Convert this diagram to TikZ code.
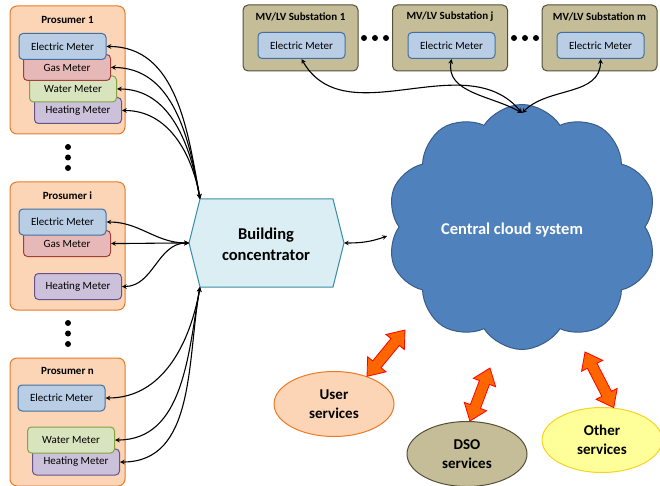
\documentclass[tikz,border=0pt]{standalone}
\usepackage{fontspec}
\setmainfont{Carlito}
\usepackage{tikz}
\usetikzlibrary{arrows}
\usetikzlibrary{calc}
\usetikzlibrary{shapes.geometric}
\usetikzlibrary{shapes.symbols}
\usetikzlibrary{shapes.arrows}

\definecolor{prosumerfill}{HTML}{FBD5B5}
\definecolor{prosumerline}{HTML}{EB7A24}
\definecolor{elecfill}{HTML}{B9CDE5}
\definecolor{elecline}{HTML}{41709F}
\definecolor{gasfill}{HTML}{E6B9B8}
\definecolor{gasline}{HTML}{A23E3B}
\definecolor{waterfill}{HTML}{D7E4BD}
\definecolor{waterline}{HTML}{82A447}
\definecolor{heatfill}{HTML}{CCC1DA}
\definecolor{heatline}{HTML}{67528A}
\definecolor{bcfill}{HTML}{DAEEF3}
\definecolor{bcline}{HTML}{3A8FA6}
\definecolor{stationfill}{HTML}{C4BD97}
\definecolor{stationline}{HTML}{544F38}
\definecolor{cloudfill}{HTML}{4F81BD}
\definecolor{cloudline}{HTML}{385D8A}
\definecolor{otherfill}{HTML}{FFFF99}
\definecolor{otherline}{HTML}{F7D21E}
\definecolor{arrowfill}{HTML}{FF6600}

\newcommand{\fatlink}[2]{%
  \path let \p1=($(#2)-(#1)$), \n1={atan2(\y1,\x1)}, \n2={veclen(\x1,\y1)} in
    node[fat,rotate=\n1,minimum height=\n2] at ($(#1)!.5!(#2)$) {};}

\begin{document}
\begin{tikzpicture}[x=1pt,y=1pt]
  \tikzstyle{prosumer} = [draw=prosumerline,fill=prosumerfill,line width=1pt,rounded corners=7pt,minimum width=115pt,minimum height=128pt,inner sep=0pt]
  \tikzstyle{station} = [draw=stationline,fill=stationfill,line width=1pt,rounded corners=5pt,minimum width=115pt,minimum height=66pt,inner sep=0pt]
  \tikzstyle{title} = [font=\bfseries\fontsize{11}{13}\selectfont]
  \tikzstyle{meter} = [line width=1pt,rounded corners=4pt,minimum width=87pt,minimum height=26pt,inner sep=0pt,font=\fontsize{11}{13}\selectfont]
  \tikzstyle{elec} = [meter,draw=elecline,fill=elecfill]
  \tikzstyle{gas} = [meter,draw=gasline,fill=gasfill]
  \tikzstyle{water} = [meter,draw=waterline,fill=waterfill]
  \tikzstyle{heat} = [meter,draw=heatline,fill=heatfill]
  \tikzstyle{dot} = [circle,fill=black,inner sep=0pt,minimum size=6pt]
  \tikzstyle{link} = [draw,line width=1.1pt,stealth-stealth]
  \tikzstyle{service} = [ellipse,line width=1pt,minimum width=120pt,minimum height=65pt,align=center,font=\bfseries\fontsize{15}{19}\selectfont]
  \tikzstyle{fat} = [double arrow,fill=arrowfill,draw=red,line width=0.8pt,inner sep=5pt,double arrow head extend=6.5pt,double arrow tip angle=75]
  %%
  \useasboundingbox (0,0) rectangle (660,-486);
  %%
  %% prosumers
  \node[prosumer] (p1) at (67.5,-70) {};
  \node[title] at (67.5,-20) {Prosumer 1};
  \node[heat] (p1h) at (78,-110.5) {Heating Meter};
  \node[water] (p1w) at (73,-89) {Water Meter};
  \node[gas] (p1g) at (67,-67.5) {Gas Meter};
  \node[elec] (p1e) at (62.5,-46.5) {Electric Meter};
  %%
  \node[dot] at (68,-147) {};
  \node[dot] at (68,-157.5) {};
  \node[dot] at (68,-168) {};
  %%
  \node[prosumer] (pi) at (67.5,-246) {};
  \node[title] at (67.5,-196) {Prosumer i};
  \node[heat] (pih) at (78,-286.5) {Heating Meter};
  \node[gas] (pig) at (67,-243.5) {Gas Meter};
  \node[elec] (pie) at (62.5,-222) {Electric Meter};
  %%
  \node[dot] at (68,-323) {};
  \node[dot] at (68,-333.5) {};
  \node[dot] at (68,-344) {};
  %%
  \node[prosumer] (pn) at (67.5,-422) {};
  \node[title] at (67.5,-371) {Prosumer n};
  \node[heat] (pnh) at (76,-462) {Heating Meter};
  \node[water] (pnw) at (71,-440) {Water Meter};
  \node[elec] (pne) at (61.5,-398) {Electric Meter};
  %%
  %% building concentrator
  \coordinate (bcnw) at (200,-199);
  \coordinate (bcw) at (189,-243);
  \coordinate (bcsw) at (200,-287);
  \coordinate (bce) at (344,-243);
  \draw[draw=bcline,fill=bcfill,line width=1pt] (bcnw) -- (333,-199) -- (bce) -- (333,-287) -- (bcsw) -- (bcw) -- cycle;
  \node[align=center,font=\bfseries\fontsize{16.5}{21}\selectfont] (bc) at (266,-244) {Building\\concentrator};
  %%
  %% substations
  \node[station] (s1) at (300.5,-38) {};
  \node[title] at (300.5,-17) {MV/LV Substation 1};
  \node[elec] (s1m) at (301.5,-45.5) {Electric Meter};
  \node[station] (sj) at (450,-38) {};
  \node[title] at (450,-17) {MV/LV Substation j};
  \node[elec] (sjm) at (451.5,-45.5) {Electric Meter};
  \node[station] (sm) at (599.5,-38) {};
  \node[title] at (599.5,-17) {MV/LV Substation m};
  \node[elec] (smm) at (600.5,-45.5) {Electric Meter};
  \foreach \x in {364,375,386,514,525,536}
    \node[dot] at (\x,-38) {};
  %%
  %% cloud
  \node[cloud,cloud puffs=10,cloud puff arc=115,aspect=1.1,minimum width=270pt,minimum height=245pt,
        draw=cloudline,fill=cloudfill,line width=1pt] (cloud) at (522,-227) {};
  \node[text=white,font=\bfseries\fontsize{16.5}{20}\selectfont] (cloudtxt) at (512,-230) {Central cloud system};
  \coordinate (ctop) at (522,-113);
  \coordinate (cwest) at (387,-236);
  \coordinate (cuser) at (405,-330);
  \coordinate (cdso) at (490,-368);
  \coordinate (cother) at (585,-352);
  %%
  %% services
  \node[service,draw=prosumerline,fill=prosumerfill] (user) at (334,-404) {User\\services};
  \node[service,draw=stationline,fill=stationfill] (dso) at (467,-454) {DSO\\services};
  \node[service,draw=otherline,fill=otherfill] (other) at (602,-440) {Other\\services};
  %%
  %% links
  \path[link] (p1e.east) to[out=0,in=100] (bcnw);
  \path[link] (p1g.east) to[out=0,in=100] (bcnw);
  \path[link] (p1w.east) to[out=0,in=100] (bcnw);
  \path[link] (p1h.east) to[out=0,in=100] (bcnw);
  \path[link] (pie.east) to[out=0,in=180] (bcw);
  \path[link] (pig.east) to[out=0,in=180] (bcw);
  \path[link] (pih.east) to[out=0,in=180] (bcw);
  \path[link] (pne.east) to[out=0,in=-100] (bcsw);
  \path[link] (pnw.east) to[out=0,in=-100] (bcsw);
  \path[link] (pnh.east) to[out=0,in=-100] (bcsw);
  \path[link] (bce) to[out=0,in=200] (cwest);
  \path[link] (s1m.south) to[out=-60,in=130] (ctop);
  \path[link] (sjm.south) to[out=-100,in=150] (ctop);
  \path[link] (smm.south) to[out=-90,in=45] (ctop);
  %%
  \fatlink{user.40}{cuser}
  \fatlink{dso.85}{cdso}
  \fatlink{other.70}{cother}
\end{tikzpicture}
\end{document}
